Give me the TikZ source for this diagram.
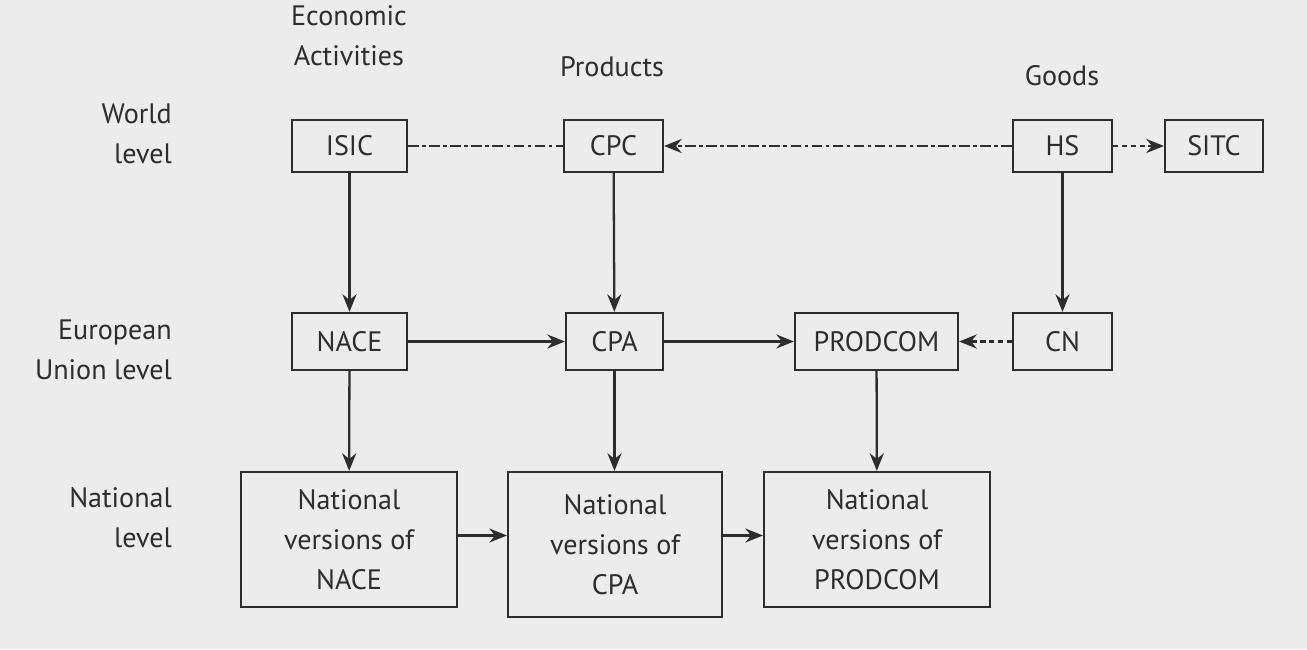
\documentclass[tikz,border=0pt]{standalone}
\usepackage{fontspec}
\setmainfont{PT Sans}
\usetikzlibrary{arrows.meta}

\definecolor{bgcol}{RGB}{236,236,236}
\definecolor{linecol}{RGB}{45,45,45}

\tikzset{
  classbox/.style={draw=linecol, line width=1.3pt, minimum height=1.04cm, inner sep=0pt},
  natbox/.style={draw=linecol, line width=1.3pt, align=center, inner sep=0pt,
    font=\fontsize{16}{22.8}\selectfont},
  levellabel/.style={anchor=east, align=right, font=\fontsize{16}{22.8}\selectfont},
  headlabel/.style={align=center, font=\fontsize{16}{22.8}\selectfont},
  link/.style={->, line width=1.3pt, draw=linecol},
  worldlink/.style={line width=1.3pt, draw=linecol, dash pattern=on 6pt off 2pt on 2pt off 2pt},
  tradelink/.style={->, line width=1.3pt, draw=linecol, dash pattern=on 3pt off 2pt},
}

\begin{document}
\begin{tikzpicture}[x=0.02cm, y=-0.02cm, >={Stealth[length=10pt,width=8pt]},
  font=\fontsize{16}{22.8}\selectfont, text=linecol]
  % background and frame of the page
  \fill[bgcol] (0,0) rectangle (1307,649);
  \useasboundingbox (0,0) rectangle (1307,649);

  % column headings
  \node[headlabel] (econ) at (349,36) {Economic\\Activities};
  \node[headlabel] (prod) at (612,67) {Products};
  \node[headlabel] (goods) at (1062,76) {Goods};

  % row headings
  \node[levellabel] (world) at (178,134) {World\\level};
  \node[levellabel] (eu) at (178,350) {European\\Union level};
  \node[levellabel] (nat) at (178,518) {National\\level};

  % world level
  \node[classbox, minimum width=2.3cm] (isic) at (349.5,146) {ISIC};
  \node[classbox, minimum width=1.98cm] (cpc) at (613.5,146) {CPC};
  \node[classbox, minimum width=1.98cm] (hs) at (1062.5,146) {HS};
  \node[classbox, minimum width=1.96cm] (sitc) at (1214,146) {SITC};

  % European Union level
  \node[classbox, minimum width=2.3cm, minimum height=1.14cm] (nace) at (349.5,341.5) {NACE};
  \node[classbox, minimum width=1.94cm, minimum height=1.14cm] (cpa) at (614.5,341.5) {CPA};
  \node[classbox, minimum width=3.26cm, minimum height=1.14cm] (prodcom) at (876.5,341.5) {PRODCOM};
  \node[classbox, minimum width=1.98cm, minimum height=1.14cm] (cn) at (1062.5,341.5) {CN};

  % national level
  \node[natbox, minimum width=4.32cm, minimum height=2.7cm] (natnace) at (349,539.5)
    {National\\versions of\\NACE};
  \node[natbox, minimum width=4.28cm, minimum height=2.9cm] (natcpa) at (615,544.5)
    {National\\versions of\\CPA};
  \node[natbox, minimum width=4.52cm, minimum height=2.7cm] (natprodcom) at (877,539.5)
    {National\\versions of\\PRODCOM};

  % links at world level
  \draw[worldlink] (isic) -- (cpc);
  \draw[worldlink, ->] (hs) -- (cpc);
  \draw[tradelink] (hs) -- (sitc);

  % down to the European Union level
  \draw[link] (isic) -- (nace);
  \draw[link] (cpc) -- (cpa);
  \draw[link] (hs) -- (cn);

  % links at European Union level
  \draw[link] (nace) -- (cpa);
  \draw[link] (cpa) -- (prodcom);
  \draw[tradelink] (cn) -- (prodcom);

  % down to the national level
  \draw[link] (nace) -- (natnace);
  \draw[link] (cpa) -- (cpa |- natcpa.north);
  \draw[link] (prodcom) -- (natprodcom);

  % links at national level
  \draw[link] (natnace.east) ++(0,-4) coordinate (nn) -- (nn -| natcpa.west);
  \draw[link] (natcpa.east |- nn) -- (nn -| natprodcom.west);
\end{tikzpicture}
\end{document}
